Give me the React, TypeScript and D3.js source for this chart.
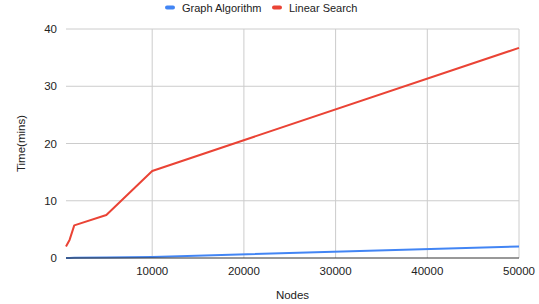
import React from "react";
import * as d3 from "d3";

const nodes = [600, 1000, 1500, 5000, 10000, 50000];
const graphAlgorithm = [0.01, 0.02, 0.03, 0.08, 0.17, 2.0];
const linearSearch = [2.0, 3.2, 5.7, 7.5, 15.2, 36.7];
const xTicks = [10000, 20000, 30000, 40000, 50000];
const yTicks = [0, 10, 20, 30, 40];
const seriesNames = ["Graph Algorithm", "Linear Search"];
const colors = ["#4285F4", "#EA4335"];

const W = 539;
const H = 304;
const M = { left: 66, right: 20, top: 29, bottom: 46 };

export default function App() {
  const x = d3.scaleLinear().domain([nodes[0], 50000]).range([M.left, W - M.right]);
  const y = d3.scaleLinear().domain([0, 40]).range([H - M.bottom, M.top]);
  const line = d3
    .line<[number, number]>()
    .x((d) => x(d[0]))
    .y((d) => y(d[1]));
  const series = [graphAlgorithm, linearSearch];
  const font = "'Liberation Sans', Arial, sans-serif";
  const legendX = [165, 272];
  return (
    <svg
      width={W}
      height={H}
      style={{ position: "absolute", left: 0, top: 0, background: "#fff" }}
      fontFamily={font}
    >
      {yTicks.filter((t) => t > 0).map((t) => (
        <line key={"gy" + t} x1={M.left} x2={W - M.right} y1={y(t)} y2={y(t)} stroke="#cccccc" strokeWidth={1} />
      ))}
      {xTicks.map((t) => (
        <line key={"gx" + t} x1={x(t)} x2={x(t)} y1={M.top} y2={H - M.bottom} stroke="#cccccc" strokeWidth={1} />
      ))}
      {yTicks.map((t) => (
        <text key={"ty" + t} x={M.left - 9} y={y(t) + 4} textAnchor="end" fontSize={11.5} fill="#222">
          {t}
        </text>
      ))}
      {xTicks.map((t) => (
        <text key={"tx" + t} x={x(t)} y={H - M.bottom + 17} textAnchor="middle" fontSize={11.5} fill="#222">
          {t}
        </text>
      ))}
      {series.map((s, i) => (
        <path
          key={"s" + i}
          d={line(nodes.map((n, j) => [n, s[j]] as [number, number])) || ""}
          fill="none"
          stroke={colors[i]}
          strokeWidth={2}
          strokeLinejoin="round"
        />
      ))}
      <line x1={M.left} x2={W - M.right} y1={y(0)} y2={y(0)} stroke="#333" strokeWidth={1} />
      <text x={(M.left + W - M.right) / 2} y={299} textAnchor="middle" fontSize={11.5} fill="#222">
        Nodes
      </text>
      <text
        transform={`translate(25,${(M.top + H - M.bottom) / 2}) rotate(-90)`}
        textAnchor="middle"
        fontSize={11.5}
        fill="#222"
      >
        Time(mins)
      </text>
      {seriesNames.map((n, i) => (
        <g key={"l" + i}>
          <rect x={legendX[i]} y={5.5} width={10} height={4} rx={2} fill={colors[i]} />
          <text x={legendX[i] + 17} y={11.5} fontSize={11} fill="#222">
            {n}
          </text>
        </g>
      ))}
    </svg>
  );
}
